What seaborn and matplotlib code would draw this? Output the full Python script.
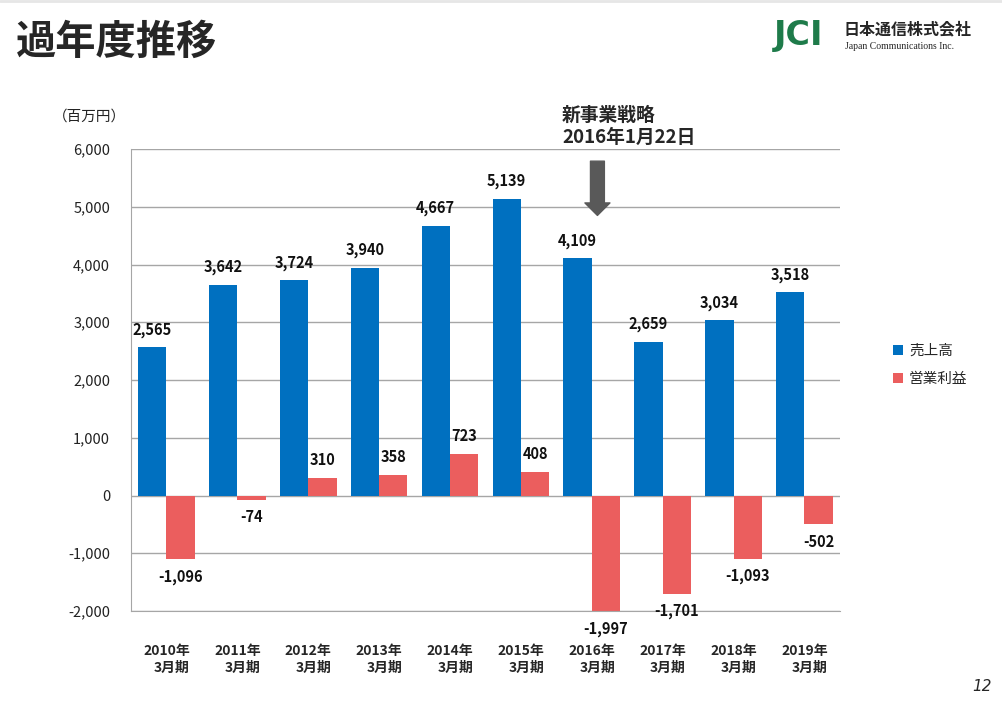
"""
過年度推移 - 売上高と営業利益の棒グラフ
"""
import pandas as pd
import matplotlib
matplotlib.use('Agg')
import matplotlib.pyplot as plt
import seaborn as sns

# データ
periods = ['2010年\n3月期', '2011年\n3月期', '2012年\n3月期', '2013年\n3月期', '2014年\n3月期',
           '2015年\n3月期', '2016年\n3月期', '2017年\n3月期', '2018年\n3月期', '2019年\n3月期']
sales = [2565, 3642, 3724, 3940, 4667, 5139, 4109, 2659, 3034, 3518]
op_profit = [-1096, -74, 310, 358, 723, 408, -1997, -1701, -1093, -502]
series_names = ['売上高', '営業利益']
y_ticks = [-2000, -1000, 0, 1000, 2000, 3000, 4000, 5000, 6000]

BLUE = '#0070C0'
RED = '#EB5E5E'
GRID = '#A6A6A6'

sns.set_style('white')
plt.rcParams['font.family'] = ['Noto Sans CJK JP', 'DejaVu Sans']

df = pd.DataFrame({
    '期': periods * 2,
    '値': sales + op_profit,
    '項目': [series_names[0]] * len(periods) + [series_names[1]] * len(periods),
})

fig = plt.figure(figsize=(10.02, 7.01), dpi=100)
ax = fig.add_axes([0.1307, 0.1284, 0.7075, 0.659])

sns.barplot(data=df, x='期', y='値', hue='項目', palette=[BLUE, RED],
            width=0.8, saturation=1, edgecolor='none', ax=ax)

# 値ラベル
for cont, vals in zip(ax.containers, [sales, op_profit]):
    ax.bar_label(cont, labels=[f'{v:,}' for v in vals], padding=7,
                 fontsize=10.5, fontweight='bold', color='#111111')

ax.set_ylim(-2000, 6000)
ax.set_yticks(y_ticks)
ax.set_yticklabels([f'{t:,}' for t in y_ticks])
ax.set_xlabel('')
ax.set_ylabel('')
ax.yaxis.grid(True, color=GRID, linewidth=1)
ax.set_axisbelow(True)
for s in ['top', 'right']:
    ax.spines[s].set_visible(False)
ax.spines['left'].set_color(GRID)
ax.spines['bottom'].set_color(GRID)
ax.tick_params(axis='y', length=4, color=GRID, pad=11, labelsize=10.5, labelcolor='#222222')
ax.tick_params(axis='x', length=0, pad=24, labelsize=10)
for lbl in ax.get_xticklabels():
    lbl.set_fontweight('bold')
    lbl.set_multialignment('right')

# 凡例
leg = ax.legend(loc='upper left', bbox_to_anchor=(0.878, 0.528), bbox_transform=fig.transFigure,
                frameon=False, fontsize=10.5, handlelength=0.7, handleheight=0.7,
                labelspacing=0.95, handletextpad=0.4)

# 矢印と注記
ax.annotate('', xy=(6.08, 4850), xytext=(6.08, 5790),
            arrowprops=dict(arrowstyle='simple,head_width=1.8,head_length=0.9,tail_width=1.0',
                            color='#595959', shrinkA=0, shrinkB=0))
fig.text(0.561, 0.82, '新事業戦略\n2016年1月22日', fontsize=13.5, fontweight='bold',
         va='center', ha='left', linespacing=1.2)

# 単位
fig.text(0.053, 0.833, '（百万円）', fontsize=10.5, va='center', ha='left', color='#222222')

# タイトル
fig.text(0.016, 0.94, '過年度推移', fontsize=29, fontweight='bold', va='center', ha='left')

# ページ上端の線
fig.add_artist(plt.Line2D([0, 1], [0.998, 0.998], color='#E6E6E6', linewidth=2))

# ロゴ
fig.text(0.772, 0.95, 'JCI', fontsize=24, fontweight='heavy', color='#1E7B4A',
         va='center', ha='left', family='DejaVu Sans')
fig.text(0.842, 0.958, '日本通信株式会社', fontsize=11.5, fontweight='bold', va='center', ha='left')
fig.text(0.843, 0.933, 'Japan Communications Inc.', fontsize=7, va='center', ha='left',
         family='Liberation Serif')

# ページ番号
fig.text(0.99, 0.021, '12', fontsize=11, fontstyle='italic', va='center', ha='right',
         family='DejaVu Sans')

fig.savefig('out.png', dpi=100)
